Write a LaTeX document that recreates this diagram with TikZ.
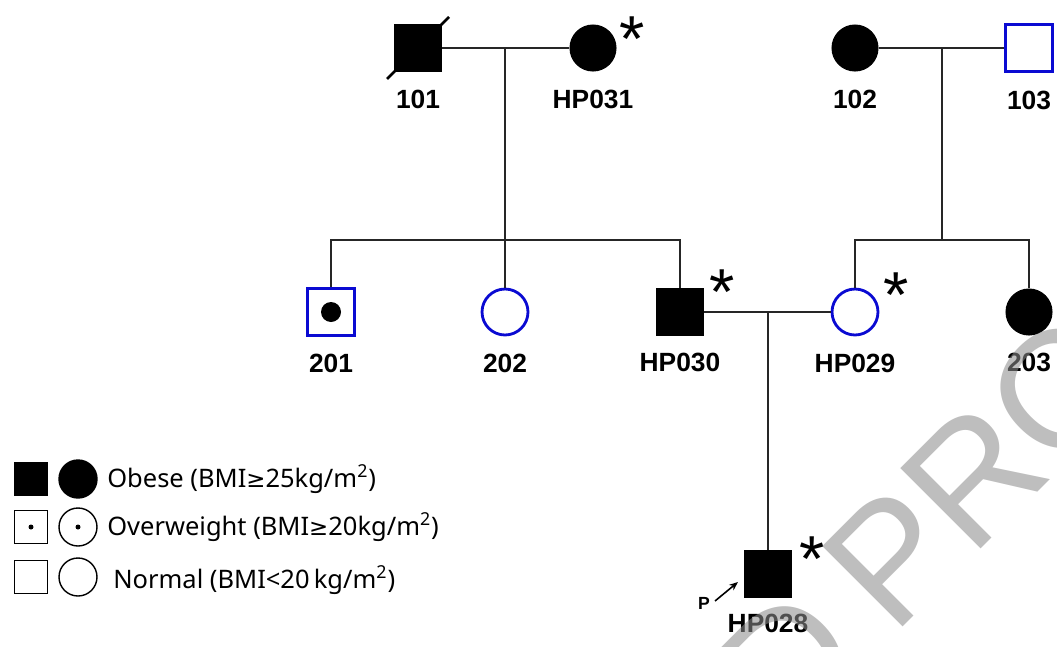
\documentclass[tikz,border=0pt]{standalone}
\usepackage{fontspec}
\setmainfont{Liberation Sans}
\newfontfamily\legendfont{Noto Sans}
\newfontfamily\mathsymfont{DejaVu Sans}
\usepackage{tikz}
\usetikzlibrary{positioning,arrows.meta}
\definecolor{pedblue}{HTML}{0A0AD2}
\newcommand{\geqsym}{{\mathsymfont\fontsize{13}{16}\selectfont ≥}}

\begin{document}
\begin{tikzpicture}[x=0.02cm, y=-0.02cm,
    maleBox/.style={rectangle, minimum size=0.94cm, inner sep=0pt},
    femaleDisc/.style={circle, minimum size=0.92cm, inner sep=0pt},
    obeseSym/.style={draw=black, fill=black, line width=0.6pt},
    normalSym/.style={draw=pedblue, fill=white, line width=1.6pt},
    pedLine/.style={draw=black!85, line width=0.8pt},
    deadSlash/.style={draw=black, line width=1.6pt},
    idLabel/.style={font=\fontsize{15}{18}\selectfont\bfseries, inner sep=0pt},
    starMark/.style={font=\fontsize{37}{37}\selectfont, inner sep=0pt, anchor=base},
    legBox/.style={rectangle, draw=black, line width=0.8pt, minimum size=0.66cm, inner sep=0pt},
    legDisc/.style={circle, draw=black, line width=0.8pt, minimum size=0.76cm, inner sep=0pt},
    legText/.style={font=\legendfont\fontsize{14.5}{17}\selectfont, inner sep=0pt, anchor=base west},
    waterMark/.style={font=\fontsize{94}{94}\selectfont, text=black!45, opacity=0.57, inner sep=0pt, rotate=45}
]
    \useasboundingbox (0,0) rectangle (1057,646);

    % Generazione I
    \node[maleBox, obeseSym] (n101) at (418,48) {};
    \draw[deadSlash] ([shift={(-31,31)}]n101.center) -- ([shift={(31,-31)}]n101.center);
    \node[femaleDisc, obeseSym] (hp031) at (593,48) {};
    \node[starMark] (st031) at (632,61) {*};
    \node[femaleDisc, obeseSym] (n102) at (855,48) {};
    \node[maleBox, normalSym] (n103) at (1029,48) {};

    \node[idLabel, below=0.36cm of n101] (l101) {101};
    \node[idLabel, below=0.36cm of hp031] (l031) {HP031};
    \node[idLabel, below=0.36cm of n102] (l102) {102};
    \node[idLabel, below=0.36cm of n103] (l103) {103};

    % Generazione II
    \node[maleBox, normalSym] (n201) at (331,312) {};
    \fill[black] (n201.center) circle[radius=0.2cm];
    \node[femaleDisc, normalSym] (n202) at (505,312) {};
    \node[maleBox, obeseSym] (hp030) at (680,312) {};
    \node[starMark] (st030) at (722,314) {*};
    \node[femaleDisc, normalSym] (hp029) at (855,312) {};
    \node[starMark] (st029) at (896,317) {*};
    \node[femaleDisc, obeseSym] (n203) at (1029,312) {};

    \node[idLabel, below=0.34cm of n201] (l201) {201};
    \node[idLabel, below=0.34cm of n202] (l202) {202};
    \node[idLabel, below=0.34cm of hp030] (l030) {HP030};
    \node[idLabel, below=0.34cm of hp029] (l029) {HP029};
    \node[idLabel, below=0.34cm of n203] (l203) {203};

    % Generazione III
    \node[maleBox, obeseSym] (hp028) at (768,574) {};
    \node[starMark] (st028) at (812,581) {*};
    \node[idLabel, below=0.32cm of hp028] (l028) {HP028};
    \node[font=\fontsize{10}{12}\selectfont\bfseries, inner sep=0pt] (pLetter) at (704,603) {P};
    \coordinate (pTail) at (715,601);
    \coordinate (pTip) at (738,582);
    \draw[-{Stealth[length=5pt,width=4pt]}, line width=0.9pt] (pTail) -- (pTip);

    % Linee
    \coordinate (m1) at (505,48);
    \coordinate (s1) at (505,240);
    \coordinate (m2) at (942,48);
    \coordinate (s2) at (942,240);
    \coordinate (m3) at (768,312);
    \draw[pedLine] (n101) -- (hp031);
    \draw[pedLine] (m1) -- (n202);
    \draw[pedLine] (n201.north) |- (s1) -| (hp030.north);
    \draw[pedLine] (n102) -- (n103);
    \draw[pedLine] (m2) -- (s2);
    \draw[pedLine] (hp029.north) |- (s2) -| (n203.north);
    \draw[pedLine] (hp030) -- (hp029);
    \draw[pedLine] (m3) -- (hp028.north);

    % Legenda
    \node[legBox, fill=black, minimum size=0.64cm] (lgSq1) at (31,479) {};
    \node[legDisc, fill=black] (lgCi1) at (78,479) {};
    \node[legText] (lgTx1) at (107,487) {Obese (BMI\geqsym25kg/m\textsuperscript{2})};
    \node[legBox] (lgSq2) at (31,527) {};
    \fill[black] (lgSq2.center) circle[radius=0.05cm];
    \node[legDisc] (lgCi2) at (78,527) {};
    \fill[black] (lgCi2.center) circle[radius=0.05cm];
    \node[legText] (lgTx2) at (107,535) {Overweight (BMI\geqsym20kg/m\textsuperscript{2})};
    \node[legBox] (lgSq3) at (31,577) {};
    \node[legDisc] (lgCi3) at (78,577) {};
    \node[legText] (lgTx3) at (113,588) {Normal (BMI<20\,kg/m\textsuperscript{2})};

    % Filigrana
    \begin{scope}
        \clip (0,0) rectangle (1057,646);
        \node[waterMark, anchor=base west] (wmProof) at (893,637) {PROOF};
        \node[waterMark, anchor=base east] (wmUncorr) at (870,660) {UNCORRECTED};
    \end{scope}
\end{tikzpicture}
\end{document}
